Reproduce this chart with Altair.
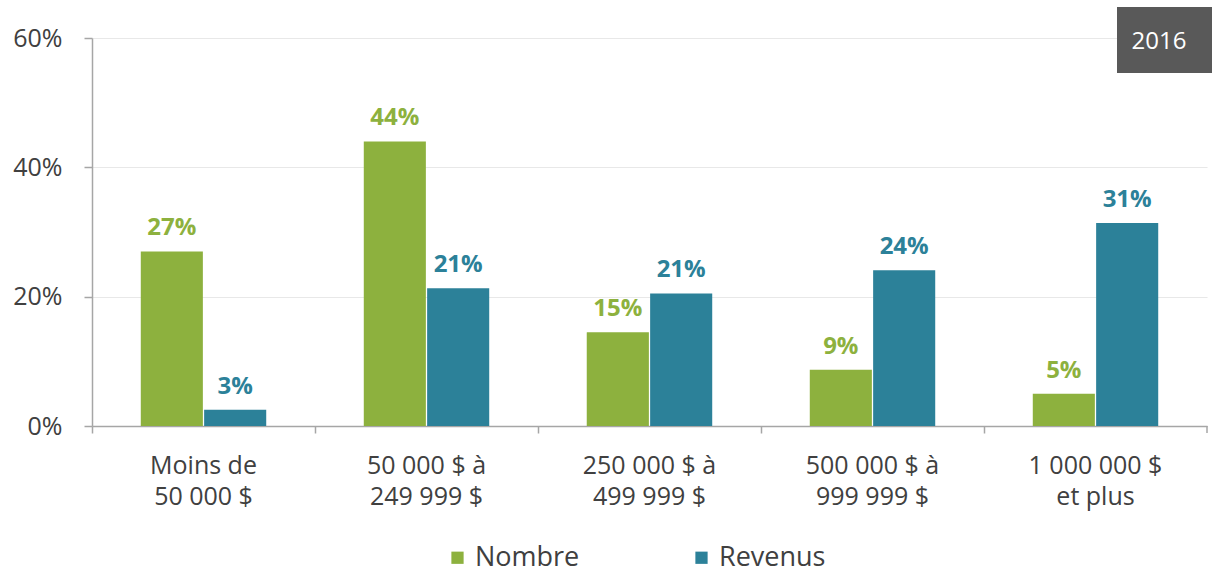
import altair as alt
import pandas as pd

categories = ["Moins de|50 000 $", "50 000 $ à|249 999 $", "250 000 $ à|499 999 $",
              "500 000 $ à|999 999 $", "1 000 000 $|et plus"]
series = ["Nombre", "Revenus"]
nombre = [27.0, 44.0, 14.5, 8.7, 5.0]
revenus = [2.5, 21.3, 20.5, 24.1, 31.4]
nombre_labels = ["27%", "44%", "15%", "9%", "5%"]
revenus_labels = ["3%", "21%", "21%", "24%", "31%"]
colors = ["#8DB13E", "#2C8199"]
year_label = "2016"

rows = []
for i, c in enumerate(categories):
    rows.append({"cat": c, "serie": series[0], "val": nombre[i], "lab": nombre_labels[i]})
    rows.append({"cat": c, "serie": series[1], "val": revenus[i], "lab": revenus_labels[i]})
df = pd.DataFrame(rows)

FONT = "Open Sans"
W, H = 1115, 388

x = alt.X("cat:N", sort=categories, title=None,
          scale=alt.Scale(paddingInner=0, paddingOuter=0),
          axis=alt.Axis(labelExpr="split(datum.value, '|')", labelAngle=0,
                        labelFont=FONT, labelFontSize=25, labelColor="#404040",
                        labelLineHeight=31, labelPadding=20, bandPosition=0,
                        tickSize=7, tickColor="#a6a6a6", domainColor="#a6a6a6",
                        domainWidth=1.5, tickWidth=1.5, grid=False))
xoff = alt.XOffset("serie:N", sort=series,
                   scale=alt.Scale(paddingInner=0.02, paddingOuter=0.77))
y = alt.Y("val:Q", title=None,
          scale=alt.Scale(domain=[0, 60], nice=False),
          axis=alt.Axis(values=[0, 20, 40, 60], labelExpr="datum.value + '%'",
                        labelFont=FONT, labelFontSize=25, labelColor="#404040",
                        labelPadding=22, tickSize=8, tickColor="#a6a6a6",
                        domainColor="#a6a6a6", domainWidth=1.5, tickWidth=1.5,
                        gridColor="#e8e8e8", gridWidth=1.2))
color = alt.Color("serie:N", sort=series,
                  scale=alt.Scale(domain=series, range=colors),
                  legend=alt.Legend(title=None, orient="none", direction="horizontal",
                                    legendX=352, legendY=506, symbolType="square",
                                    symbolSize=150, symbolStrokeWidth=0,
                                    labelFont=FONT, labelFontSize=27, labelOffset=4,
                                    labelColor="#404040", columnPadding=108,
                                    symbolOpacity=1))

base = alt.Chart(df)
bars = base.mark_bar(opacity=1).encode(x=x, xOffset=xoff, y=y, color=color)
labels = base.mark_text(baseline="bottom", dy=-11, font=FONT, fontSize=24,
                        fontWeight="bold").encode(
    x=x, xOffset=xoff, y=y, color=alt.Color("serie:N", sort=series,
                                           scale=alt.Scale(domain=series, range=colors),
                                           legend=None),
    text="lab:N")

end_tick = alt.Chart(pd.DataFrame({"k": [0]})).mark_rule(
    color="#a6a6a6", strokeWidth=1.5).encode(
    x=alt.value(W), y=alt.value(H), y2=alt.value(H + 7))

box = alt.Chart(pd.DataFrame({"t": [year_label]})).mark_rect(color="#595959").encode(
    x=alt.value(1025), x2=alt.value(1120), y=alt.value(-31), y2=alt.value(35))
box_text = alt.Chart(pd.DataFrame({"t": [year_label]})).mark_text(
    color="white", font=FONT, fontSize=24, align="center", baseline="middle").encode(
    x=alt.value(1067), y=alt.value(4), text="t:N")

chart = alt.layer(bars, labels, end_tick, box, box_text).properties(
    width=W, height=H,
    autosize=alt.AutoSizeParams(type="none"),
    padding={"left": 92, "top": 38, "right": 5, "bottom": 150},
    background="white",
).configure_view(stroke=None)

chart.save("out.html", embed_options={"renderer": "svg", "actions": False})
